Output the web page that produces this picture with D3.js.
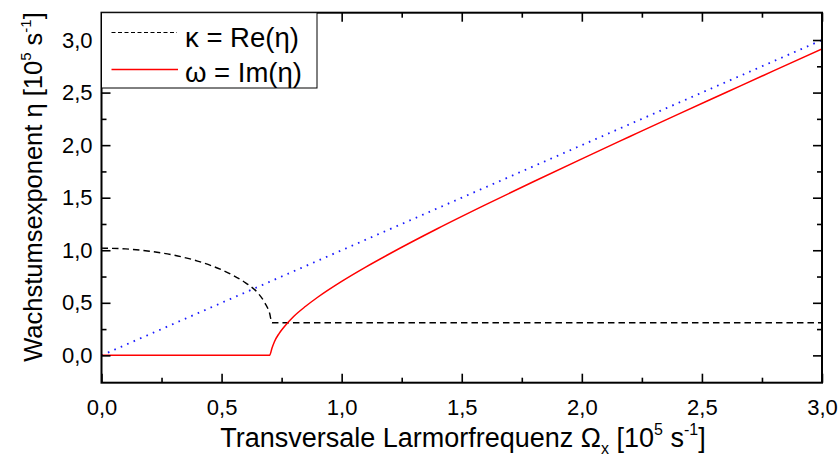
<!DOCTYPE html>
<html>
<head>
<meta charset="utf-8">
<script src="https://cdn.jsdelivr.net/npm/d3@7"></script>
<style>
  html, body { margin: 0; padding: 0; background: #fff; }
  svg { display: block; font-family: Arial, "Liberation Sans", sans-serif; }
</style>
</head>
<body>
<svg id="chart" width="840" height="461"></svg>
<script>
// ---- data ----
const larmorX = [0, 0.1, 0.2, 0.3, 0.4, 0.5, 0.55, 0.6, 0.65, 0.68, 0.70, 0.71, 0.72, 0.74, 0.76, 0.8, 0.85, 0.9, 1.0, 1.1, 1.2, 1.4, 1.6, 1.8, 2.0, 2.2, 2.4, 2.6, 2.8, 3.0];
const kappaRe = [1.02, 1.013, 0.991, 0.954, 0.897, 0.814, 0.759, 0.690, 0.596, 0.50, 0.40, 0.31, 0.31, 0.31, 0.31, 0.31, 0.31, 0.31, 0.31, 0.31, 0.31, 0.31, 0.31, 0.31, 0.31, 0.31, 0.31, 0.31, 0.31, 0.31];
const omegaIm = [0, 0, 0, 0, 0, 0, 0, 0, 0, 0, 0, 0.07, 0.13, 0.21, 0.27, 0.37, 0.467, 0.553, 0.704, 0.840, 0.967, 1.207, 1.434, 1.654, 1.870, 2.082, 2.293, 2.501, 2.709, 2.915];
const diagX = [0, 3.0];
const diagY = [0, 3.0];
const xTicks = [0, 0.5, 1.0, 1.5, 2.0, 2.5, 3.0];
const yTicks = [0, 0.5, 1.0, 1.5, 2.0, 2.5, 3.0];
const legendLabels = ["κ = Re(η)", "ω = Im(η)"];

// ---- layout ----
const L = 101.5, R = 822, T = 12.7, B = 382.7;
const svg = d3.select("#chart");
svg.append("rect").attr("width", 840).attr("height", 461).attr("fill", "#fff");

const x = d3.scaleLinear().domain([0, 3]).range([L, R]);
const y = d3.scaleLinear().domain([-0.26, 3.26]).range([B, T]);
const fmt = d => d3.format(".1f")(d).replace(".", ",");
const minorX = d3.range(0, 3.01, 0.25).filter(v => Math.abs(v * 2 - Math.round(v * 2)) > 1e-6);
const minorY = minorX;

// clip
svg.append("defs").append("clipPath").attr("id", "clip")
  .append("rect").attr("x", L).attr("y", T).attr("width", R - L).attr("height", B - T);

const plot = svg.append("g").attr("clip-path", "url(#clip)");

// blue dotted diagonal
plot.append("path")
  .datum(diagX.map((v, i) => [v, diagY[i]]))
  .attr("fill", "none").attr("stroke", "#1a1aff").attr("stroke-width", 1.8)
  .attr("stroke-dasharray", "1.6,5.4")
  .attr("d", d3.line().x(d => x(d[0])).y(d => y(d[1])));

// kappa dashed
plot.append("path")
  .datum(larmorX.map((v, i) => [v, kappaRe[i]]))
  .attr("fill", "none").attr("stroke", "#000").attr("stroke-width", 1.4)
  .attr("stroke-dasharray", "6.5,4")
  .attr("d", d3.line().curve(d3.curveMonotoneX).x(d => x(d[0])).y(d => y(d[1])));

// omega red
plot.append("path")
  .datum(larmorX.map((v, i) => [v, omegaIm[i]]))
  .attr("fill", "none").attr("stroke", "#ff0000").attr("stroke-width", 1.5)
  .attr("d", d3.line().curve(d3.curveMonotoneX).x(d => x(d[0])).y(d => y(d[1])));

// ---- axes ----
function styleAxis(g) {
  g.select(".domain").remove();
  g.selectAll(".tick line").attr("stroke", "#000").attr("stroke-width", 1.6);
}
const tickFont = g => g.selectAll("text").attr("font-size", 22).attr("fill", "#000").attr("font-family", "Arial, 'Liberation Sans', sans-serif");
// bottom
svg.append("g").attr("transform", `translate(0,${B})`)
  .call(d3.axisBottom(x).tickValues(xTicks).tickSize(-9).tickPadding(17).tickFormat(fmt))
  .call(styleAxis).call(tickFont);
svg.append("g").attr("transform", `translate(0,${B})`)
  .call(d3.axisBottom(x).tickValues(minorX).tickSize(-5).tickFormat(""))
  .call(styleAxis);
// top
svg.append("g").attr("transform", `translate(0,${T})`)
  .call(d3.axisTop(x).tickValues(xTicks).tickSize(-9).tickFormat(""))
  .call(styleAxis);
svg.append("g").attr("transform", `translate(0,${T})`)
  .call(d3.axisTop(x).tickValues(minorX).tickSize(-5).tickFormat(""))
  .call(styleAxis);
// left
svg.append("g").attr("transform", `translate(${L},0)`)
  .call(d3.axisLeft(y).tickValues(yTicks).tickSize(-9).tickPadding(9).tickFormat(fmt))
  .call(styleAxis).call(tickFont);
svg.append("g").attr("transform", `translate(${L},0)`)
  .call(d3.axisLeft(y).tickValues(minorY).tickSize(-5).tickFormat(""))
  .call(styleAxis);
// right
svg.append("g").attr("transform", `translate(${R},0)`)
  .call(d3.axisRight(y).tickValues(yTicks).tickSize(-9).tickFormat(""))
  .call(styleAxis);
svg.append("g").attr("transform", `translate(${R},0)`)
  .call(d3.axisRight(y).tickValues(minorY).tickSize(-5).tickFormat(""))
  .call(styleAxis);

// frame
svg.append("rect").attr("x", L).attr("y", T).attr("width", R - L).attr("height", B - T)
  .attr("fill", "none").attr("stroke", "#000").attr("stroke-width", 2);

// ---- legend ----
const lg = svg.append("g");
lg.append("rect").attr("x", L).attr("y", T).attr("width", 317 - L).attr("height", 88 - T)
  .attr("fill", "#fff").attr("stroke", "#000").attr("stroke-width", 1);
lg.append("line").attr("x1", 111.5).attr("x2", 177).attr("y1", 32.5).attr("y2", 32.5)
  .attr("stroke", "#000").attr("stroke-width", 1.2).attr("stroke-dasharray", "4,2.5");
lg.append("line").attr("x1", 111.5).attr("x2", 178).attr("y1", 69.5).attr("y2", 69.5)
  .attr("stroke", "#ff0000").attr("stroke-width", 1.5);
lg.append("text").attr("x", 185).attr("y", 46.5).attr("font-size", 27.5).text(legendLabels[0]);
lg.append("text").attr("x", 185).attr("y", 82).attr("font-size", 27.5).text(legendLabels[1]);

// ---- axis titles ----
const xt = svg.append("text").attr("x", 463).attr("y", 447).attr("text-anchor", "middle").attr("font-size", 27);
xt.append("tspan").text("Transversale Larmorfrequenz Ω");
xt.append("tspan").attr("font-size", 16).attr("dy", 7).text("x");
xt.append("tspan").attr("dy", -7).text(" [10");
xt.append("tspan").attr("font-size", 16).attr("dy", -12).text("5");
xt.append("tspan").attr("dy", 12).text(" s");
xt.append("tspan").attr("font-size", 16).attr("dy", -12).text("-1");
xt.append("tspan").attr("dy", 12).text("]");

const yt = svg.append("text").attr("transform", `translate(42,187) rotate(-90)`).attr("text-anchor", "middle").attr("font-size", 25.5);
yt.append("tspan").text("Wachstumsexponent η [10");
yt.append("tspan").attr("font-size", 15).attr("dy", -11).text("5");
yt.append("tspan").attr("dy", 11).text(" s");
yt.append("tspan").attr("font-size", 15).attr("dy", -11).text("-1");
yt.append("tspan").attr("dy", 11).text("]");
</script>
</body>
</html>
